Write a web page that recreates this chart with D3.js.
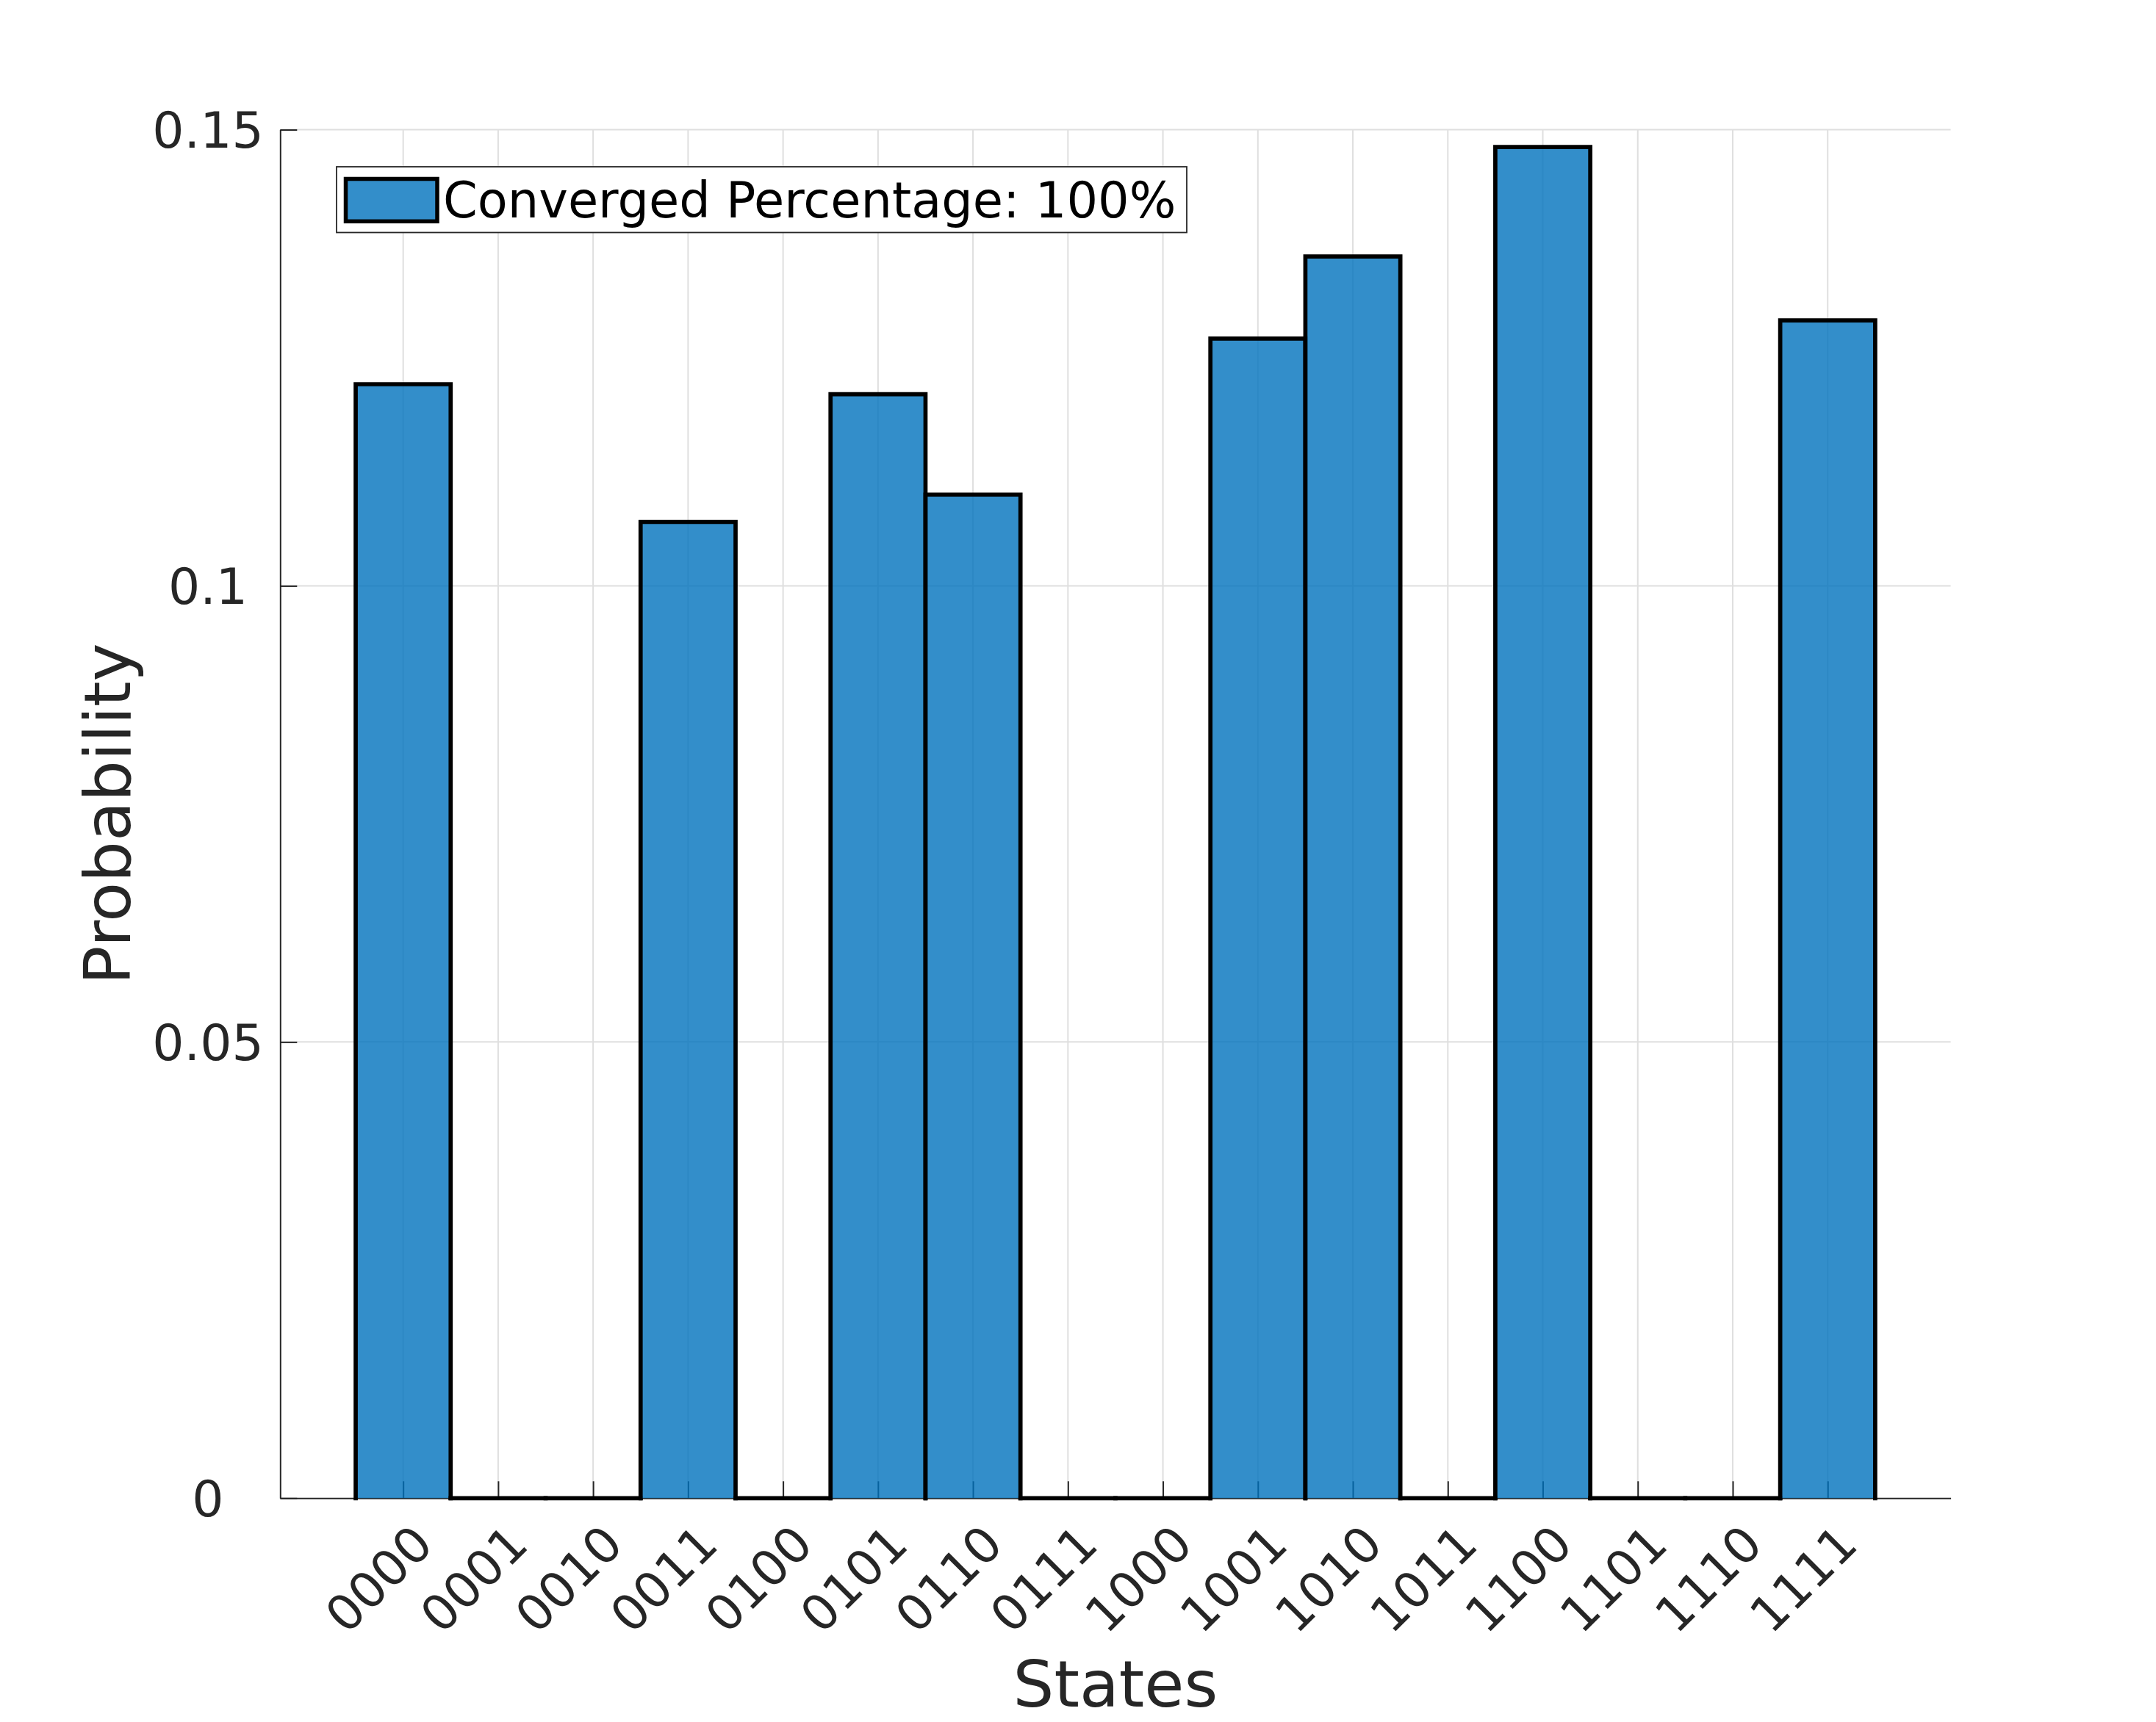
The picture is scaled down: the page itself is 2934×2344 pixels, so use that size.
<!DOCTYPE html>
<html><head><meta charset="utf-8">
<script src="https://cdn.jsdelivr.net/npm/d3@7"></script>
<style>body{margin:0;background:#fff} svg{display:block}</style>
</head><body>
<script>
const states = ["0000","0001","0010","0011","0100","0101","0110","0111","1000","1001","1010","1011","1100","1101","1110","1111"];
const probabilities = [0.1221,0,0,0.1070,0,0.1210,0.1100,0,0,0.1271,0.1361,0,0.1481,0,0,0.1291];
const yTickValues = [0,0.05,0.1,0.15];
const yTickLabels = ["0","0.05","0.1","0.15"];
const seriesName = "Converged Percentage: 100%";
const xTitle = "States";
const yTitle = "Probability";

const W = 2934, H = 2344;
const L = 381.3, R = 2654.6, T = 176.5, B = 2039.3;
const axisColor = "#262626";
const barColor = "#0072BD";

const svg = d3.select("body").append("svg")
  .attr("width", W).attr("height", H)
  .style("font-family", "'DejaVu Sans', sans-serif");
svg.append("rect").attr("width", W).attr("height", H).attr("fill", "#fff");

const idx = d3.range(states.length);
const x = d3.scaleLinear().domain([-1.295, states.length - 1 + 1.295]).range([L, R]);
const y = d3.scaleLinear().domain([0, 0.15]).range([B, T]);

// grid
const grid = svg.append("g").attr("stroke", "#dfdfdf").attr("stroke-width", 2);
grid.selectAll("line.v").data(idx).join("line").attr("class", "v")
  .attr("x1", d => x(d)).attr("x2", d => x(d)).attr("y1", T).attr("y2", B);
grid.selectAll("line.h").data(yTickValues.filter(v => v > 0)).join("line").attr("class", "h")
  .attr("x1", L).attr("x2", R).attr("y1", d => y(d)).attr("y2", d => y(d));

// axes (lines + inward ticks)
const xAxis = d3.axisBottom(x).tickValues(idx).tickSize(-23).tickSizeOuter(0).tickFormat("");
const yAxis = d3.axisLeft(y).tickValues(yTickValues).tickSize(-23).tickSizeOuter(0).tickFormat("");
const gx = svg.append("g").attr("transform", `translate(0,${B})`).call(xAxis);
const gy = svg.append("g").attr("transform", `translate(${L},0)`).call(yAxis);
[gx, gy].forEach(g => {
  g.selectAll("path.domain").attr("stroke", axisColor).attr("stroke-width", 2);
  g.selectAll(".tick line").attr("stroke", axisColor).attr("stroke-width", 2);
  g.selectAll(".tick text").remove();
});

// bars (histogram-style outlines, no bottom edge)
svg.append("g").selectAll("path").data(idx).join("path")
  .attr("d", i => {
    const x0 = x(i - 0.5), x1 = x(i + 0.5), y0 = y(0), yv = y(probabilities[i]);
    return `M${x0},${y0}V${yv}H${x1}V${y0}`;
  })
  .attr("fill", barColor).attr("fill-opacity", 0.8)
  .attr("stroke", "#000").attr("stroke-width", 5.7)
  .attr("stroke-linejoin", "miter").attr("stroke-linecap", "square");

// y tick labels
svg.append("g").selectAll("text").data(yTickValues).join("text")
  .attr("x", 283).attr("y", d => y(d) + 24.5)
  .attr("text-anchor", "middle").attr("font-size", 68).attr("fill", axisColor)
  .text((d, i) => yTickLabels[i]);

// x tick labels
svg.append("g").selectAll("text").data(idx).join("text")
  .attr("transform", i => `translate(${x(i) + 43.7},${B + 66.3}) rotate(-45)`)
  .attr("text-anchor", "end").attr("font-size", 67).attr("fill", axisColor)
  .text(i => states[i]);

// axis titles
svg.append("text").attr("transform", `translate(177,${(T + B) / 2}) rotate(-90)`)
  .attr("text-anchor", "middle").attr("font-size", 88).attr("fill", axisColor).text(yTitle);
svg.append("text").attr("x", (L + R) / 2).attr("y", 2323)
  .attr("text-anchor", "middle").attr("font-size", 88).attr("fill", axisColor).text(xTitle);

// legend
const lg = svg.append("g");
lg.append("rect").attr("x", 458).attr("y", 227).attr("width", 1157).attr("height", 89.5)
  .attr("fill", "#fff").attr("stroke", axisColor).attr("stroke-width", 1.8);
lg.append("rect").attr("x", 470.5).attr("y", 243.5).attr("width", 124.5).attr("height", 57.8)
  .attr("fill", barColor).attr("fill-opacity", 0.8).attr("stroke", "#000").attr("stroke-width", 5.5);
lg.append("text").attr("x", 603).attr("y", 295.5).attr("font-size", 67).attr("fill", "#000").text(seriesName);
</script>
</body></html>
